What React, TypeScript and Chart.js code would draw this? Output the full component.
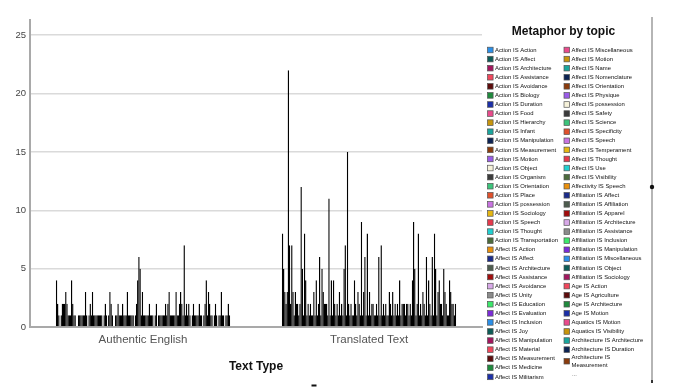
import React, { useEffect, useRef } from 'react';
import { Chart, registerables } from 'chart.js';

Chart.register(...registerables);

const textTypes = ['Authentic English', 'Translated Text'];

const legendTitle = 'Metaphor by topic';
const axisTitle = 'Text Type';

const topics = [
  'Action IS Action', 'Action IS Affect', 'Action IS Architecture', 'Action IS Assistance', 'Action IS Avoidance',
  'Action IS Biology', 'Action IS Duration', 'Action IS Food', 'Action IS Hierarchy', 'Action IS Infant',
  'Action IS Manipulation', 'Action IS Measurement', 'Action IS Motion', 'Action IS Object', 'Action IS Organism',
  'Action IS Orientation', 'Action IS Place', 'Action IS possession', 'Action IS Sociology', 'Action IS Speech',
  'Action IS Thought', 'Action IS Transportation', 'Affect IS Action', 'Affect IS Affect', 'Affect IS Architecture',
  'Affect IS Assistance', 'Affect IS Avoidance', 'Affect IS Unity', 'Affect IS Education', 'Affect IS Evaluation',
  'Affect IS Inclusion', 'Affect IS Joy', 'Affect IS Manipulation', 'Affect IS Material', 'Affect IS Measurement',
  'Affect IS Medicine', 'Affect IS Militarism', 'Affect IS Miscellaneous', 'Affect IS Motion', 'Affect IS Name',
  'Affect IS Nomenclature', 'Affect IS Orientation', 'Affect IS Physique', 'Affect IS possession', 'Affect IS Safety',
  'Affect IS Science', 'Affect IS Specificity', 'Affect IS Speech', 'Affect IS Temperament', 'Affect IS Thought',
  'Affect IS Use', 'Affect IS Visibility', 'Affectivity IS Speech', 'Affiliation IS Affect', 'Affiliation IS Affiliation',
  'Affiliation IS Apparel', 'Affiliation IS Architecture', 'Affiliation IS Assistance', 'Affiliation IS Inclusion', 'Affiliation IS Manipulation',
  'Affiliation IS Miscellaneous', 'Affiliation IS Object', 'Affiliation IS Sociology', 'Age IS Action', 'Age IS Agriculture',
  'Age IS Architecture', 'Age IS Motion', 'Aquatics IS Motion', 'Aquatics IS Visibility', 'Architecture IS Architecture',
  'Architecture IS Duration', 'Architecture IS Measurement', 'Architecture IS Motion', 'Architecture IS Object', 'Architecture IS Orientation',
  'Architecture IS Place', 'Assistance IS Action', 'Assistance IS Affect', 'Assistance IS Architecture', 'Assistance IS Motion',
  'Assistance IS Object', 'Avoidance IS Motion', 'Biology IS Action', 'Biology IS Architecture', 'Biology IS Organism',
  'Clothing IS Object', 'Cognition IS Architecture', 'Cognition IS Motion', 'Cognition IS Object', 'Cognition IS Thought',
  'Communication IS Motion', 'Communication IS Speech', 'Conflict IS Militarism', 'Conflict IS Motion', 'Difficulty IS Measurement',
  'Difficulty IS Object', 'Duration IS Measurement', 'Duration IS Motion', 'Economy IS Architecture', 'Economy IS Motion',
  'Education IS Architecture', 'Emotion IS Object', 'Evaluation IS Measurement', 'Existence IS Motion', 'Food IS Object',
  'Government IS Architecture', 'Government IS Organism', 'Hierarchy IS Orientation', 'Idea IS Object', 'Inclusion IS Architecture',
  'Inclusion IS Place', 'Life IS Motion', 'Life IS Object', 'Manipulation IS Action', 'Measurement IS Orientation',
  'Medicine IS Militarism', 'Money IS Object', 'Motion IS Action', 'Motion IS Place', 'Name IS Object',
  'Object IS Action', 'Organism IS Architecture', 'Orientation IS Place', 'Place IS Architecture', 'Place IS Organism',
  'Possession IS Object', 'Power IS Measurement', 'Power IS Orientation', 'Quantity IS Measurement', 'Quantity IS Orientation',
  'Relationship IS Architecture', 'Relationship IS Motion', 'Safety IS Architecture', 'Science IS Architecture', 'Society IS Organism',
  'Sociology IS Architecture', 'Speech IS Motion', 'Speech IS Object', 'State IS Place', 'Status IS Orientation',
  'Thought IS Motion', 'Thought IS Object', 'Time IS Motion', 'Time IS Object', 'Time IS Place',
  'Transportation IS Motion', 'Use IS Manipulation', 'Visibility IS Light', 'Work IS Architecture', 'Work IS Motion',
];

const authenticEnglish = [
  4, 2, 1, 0, 1, 2, 2, 2, 3, 2,
  1, 1, 1, 4, 2, 1, 1, 0, 0, 1,
  1, 1, 1, 1, 1, 3, 1, 0, 1, 2,
  1, 3, 1, 1, 1, 1, 1, 1, 1, 1,
  0, 1, 2, 1, 0, 1, 3, 2, 1, 0,
  0, 1, 1, 2, 1, 1, 1, 2, 1, 1,
  1, 3, 1, 1, 1, 1, 1, 0, 1, 2,
  4, 6, 5, 1, 3, 1, 1, 1, 1, 1,
  2, 1, 1, 1, 0, 1, 2, 0, 1, 1,
  1, 1, 1, 1, 2, 1, 2, 3, 1, 1,
  1, 1, 1, 3, 1, 1, 2, 3, 2, 1,
  7, 1, 2, 1, 2, 1, 0, 1, 2, 1,
  1, 1, 1, 2, 1, 1, 0, 1, 2, 4,
  1, 3, 2, 1, 1, 0, 1, 2, 1, 0,
  1, 1, 3, 1, 1, 0, 1, 1, 2, 1,
];

const translatedText = [
  8, 5, 3, 2, 3, 22, 7, 2, 7, 3,
  1, 3, 2, 2, 1, 2, 12, 5, 1, 8,
  4, 1, 2, 1, 2, 1, 1, 3, 1, 4,
  1, 2, 6, 1, 5, 3, 2, 2, 2, 1,
  11, 1, 4, 1, 4, 2, 1, 2, 1, 3,
  1, 2, 1, 5, 7, 1, 15, 2, 1, 2,
  1, 1, 4, 2, 1, 3, 2, 1, 9, 1,
  3, 6, 1, 8, 1, 3, 1, 2, 2, 1,
  1, 2, 1, 6, 1, 7, 1, 2, 1, 2,
  1, 1, 3, 2, 1, 3, 1, 2, 1, 2,
  1, 4, 1, 2, 2, 2, 1, 2, 2, 1,
  2, 1, 4, 9, 5, 1, 2, 8, 1, 2,
  1, 3, 2, 1, 6, 1, 4, 2, 1, 6,
  1, 8, 5, 1, 3, 4, 2, 2, 1, 5,
  3, 2, 1, 1, 4, 3, 2, 2, 1, 2,
];

const yTicks = [0, 5, 10, 15, 20, 25];
const yMax = 26.3;

const palette = [
  '#2b8fe8', '#0d5c57', '#a3165e', '#f0475c', '#5c0b0b', '#1f8a3d', '#1b2fa8', '#e94b8c', '#c8950c', '#1aa59d',
  '#0c2353', '#8a3b0c', '#9b5ce8', '#f6f2da', '#3b3b3b', '#3cc47b', '#e0512c', '#c873e0', '#e6b712', '#e6394c',
  '#22cfd0', '#4b6a3b', '#e98f0c', '#1b2b8a', '#4d5c4e', '#a10c0c', '#d8a9e8', '#8b8b8b', '#3ce86b', '#7b2bd8',
];

const LEGEND_VISIBLE = 72;
const FONT = '"Liberation Sans", Arial, sans-serif';

const sideLegend = {
  id: 'sideLegend',
  afterDraw(chart: any) {
    const { ctx, chartArea } = chart;
    const left = chartArea.right;
    const ds = chart.data.datasets;
    ctx.save();
    ctx.fillStyle = '#111';
    ctx.textBaseline = 'middle';
    ctx.textAlign = 'center';
    ctx.font = `bold 12px ${FONT}`;
    ctx.fillText(legendTitle, left + 81.5, 32);
    ctx.textAlign = 'left';
    ctx.font = `5.9px ${FONT}`;
    const rowH = 9.08;
    const top0 = 50;
    const perCol = 37;
    const colX = [left + 5.5, left + 82];
    const maxW = 76;
    let col = 0;
    let y = top0;
    const n = Math.min(ds.length, LEGEND_VISIBLE);
    for (let i = 0; i < n; i++) {
      if (i === perCol) {
        col = 1;
        y = top0;
      }
      const bx = colX[col];
      const text = ds[i].label as string;
      let lines = [text];
      if (ctx.measureText(text).width > maxW && text.includes(' IS ')) {
        const idx = text.indexOf(' IS ');
        lines = [text.slice(0, idx + 3), text.slice(idx + 4)];
      }
      const wrapped = lines.length > 1;
      const boxC = wrapped ? y + 2.5 : y;
      ctx.fillStyle = ds[i].backgroundColor;
      ctx.fillRect(bx, boxC - 2.8, 5.6, 5.6);
      ctx.strokeStyle = '#555';
      ctx.lineWidth = 0.7;
      ctx.strokeRect(bx, boxC - 2.8, 5.6, 5.6);
      ctx.fillStyle = '#111';
      lines.forEach((ln, j) => {
        ctx.fillText(ln, bx + 7.5, (wrapped ? y - 1.5 : y) + j * 8);
      });
      y += rowH + (wrapped ? 6.4 : 0);
    }
    if (ds.length > n) {
      ctx.fillStyle = '#333';
      ctx.fillText('...', colX[col] + 8, y);
    }
    ctx.restore();
  },
};

const frameMarks = {
  id: 'frameMarks',
  afterDraw(chart: any) {
    const { ctx, chartArea } = chart;
    const x = chartArea.right + 170;
    ctx.save();
    ctx.strokeStyle = '#9c9c9c';
    ctx.lineWidth = 1.5;
    ctx.beginPath();
    ctx.moveTo(x, 17);
    ctx.lineTo(x, 382);
    ctx.stroke();
    ctx.fillStyle = '#111';
    ctx.beginPath();
    ctx.arc(x, 187, 2.2, 0, Math.PI * 2);
    ctx.fill();
    ctx.fillStyle = '#333';
    ctx.fillRect(x - 1, 380, 2, 3);
    const cx = (chartArea.left + chartArea.right) / 2 + 58;
    ctx.fillStyle = '#111';
    ctx.fillRect(cx - 2.5, 384.5, 5, 2);
    ctx.restore();
  },
};

export default function App() {
  const ref = useRef<HTMLCanvasElement>(null);

  useEffect(() => {
    const canvas = ref.current;
    if (!canvas) return;
    Chart.defaults.font.family = FONT;
    const chart = new Chart(canvas, {
      type: 'bar',
      data: {
        labels: textTypes,
        datasets: topics.map((name, i) => ({
          label: name,
          data: [authenticEnglish[i], translatedText[i]],
          backgroundColor: palette[i % palette.length],
          borderColor: '#000',
          borderWidth: 1,
          categoryPercentage: 0.77,
          barPercentage: 1.25,
        })),
      },
      options: {
        responsive: false,
        animation: false,
        devicePixelRatio: 1,
        layout: { padding: { left: 8, top: 20, right: 196, bottom: 0 } },
        plugins: {
          legend: { display: false },
          tooltip: { enabled: false },
        },
        scales: {
          x: {
            grid: { display: false, drawTicks: false },
            border: { display: true, color: '#a9a9a9', width: 2 },
            ticks: { color: '#555', font: { size: 11.5 }, padding: 6, maxRotation: 0 },
            title: {
              display: true,
              text: axisTitle,
              color: '#111',
              font: { size: 12, weight: 'bold' },
              padding: { top: 4, bottom: 18 },
            },
            afterFit: (s: any) => {
              s.height = 65;
            },
          },
          y: {
            min: 0,
            max: yMax,
            afterBuildTicks: (s: any) => {
              s.ticks = yTicks.map((v) => ({ value: v }));
            },
            grid: { color: '#dadada', lineWidth: 1.5, drawTicks: false },
            border: { display: true, color: '#a9a9a9', width: 2 },
            ticks: { color: '#444', font: { size: 9.5 }, padding: 4 },
            afterFit: (s: any) => {
              s.width = 22;
            },
          },
        },
      } as any,
      plugins: [sideLegend, frameMarks],
    });
    return () => chart.destroy();
  }, []);

  return (
    <div style={{ position: 'fixed', left: 0, top: 0, width: 678, height: 392, background: '#fff' }}>
      <canvas ref={ref} width={678} height={392} style={{ display: 'block' }} />
    </div>
  );
}
